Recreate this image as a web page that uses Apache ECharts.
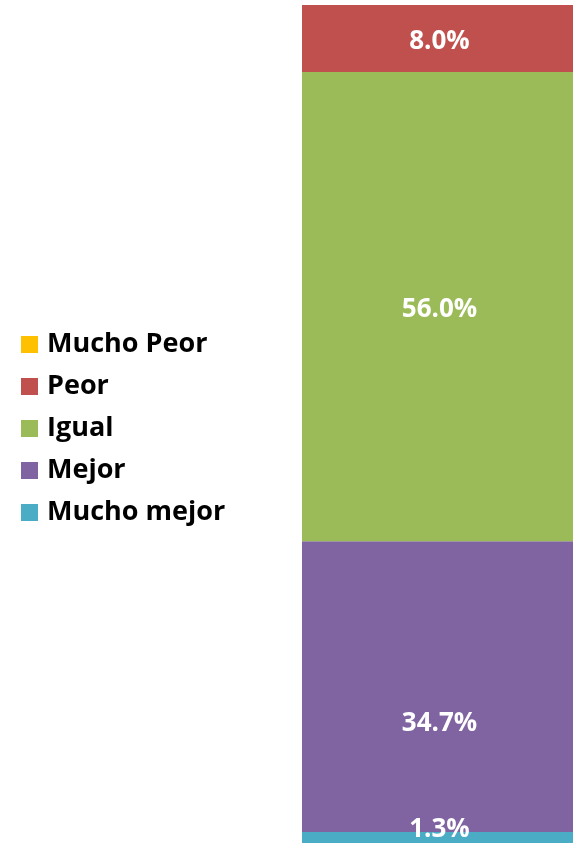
<!DOCTYPE html>
<html>
<head>
  <meta charset="UTF-8">
  <title>Comparación</title>
  <script src="https://cdn.jsdelivr.net/npm/echarts@6/dist/echarts.min.js"></script>
  <style>
    html, body { margin: 0; padding: 0; background: #fff; }
    #chart { width: 573px; height: 851px; }
  </style>
</head>
<body>
  <div id="chart"></div>
  <script>
    // datos (de abajo hacia arriba en la barra)
    const categories = ['Mucho mejor', 'Mejor', 'Igual', 'Peor', 'Mucho Peor'];
    const values = [1.3, 34.7, 56.0, 8.0, 0];
    const colors = ['#4BACC6', '#8064A2', '#9BBB59', '#C0504D', '#FFC000'];
    const labelOffsets = [-8, 37, 3, 3, 0];

    const chart = echarts.init(document.getElementById('chart'));

    const series = categories.map((name, i) => ({
      name: name,
      type: 'bar',
      stack: 'total',
      barWidth: '100%',
      data: [values[i]],
      itemStyle: { color: colors[i] },
      label: {
        show: values[i] > 0,
        position: 'inside',
        offset: [2, labelOffsets[i]],
        color: '#fff',
        fontWeight: 'bold',
        fontSize: 26,
        fontFamily: 'Open Sans',
        formatter: p => p.value.toFixed(1) + '%'
      }
    }));

    chart.setOption({
      animation: false,
      grid: { left: 302, width: 276, top: 5, bottom: 8 },
      legend: {
        orient: 'vertical',
        left: 16,
        top: 326,
        itemWidth: 17,
        itemHeight: 17,
        itemGap: 15,
        icon: 'rect',
        data: categories.slice().reverse(),
        textStyle: {
          fontSize: 27,
          lineHeight: 27,
          fontWeight: 'bold',
          color: '#000',
          fontFamily: 'Open Sans',
          padding: [0, 0, 0, 4]
        }
      },
      xAxis: { type: 'category', data: [''], show: false },
      yAxis: { type: 'value', min: 0, max: 100, show: false },
      series: series
    });
  </script>
</body>
</html>
